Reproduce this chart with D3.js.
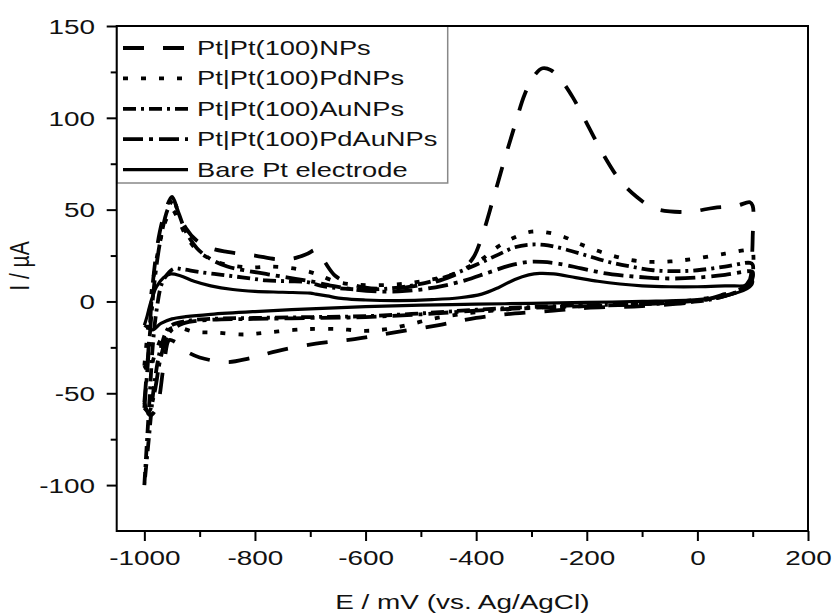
<!DOCTYPE html>
<html>
<head>
<meta charset="utf-8">
<script src="https://d3js.org/d3.v7.min.js"></script>
<style>
  body { margin: 0; background: #fff; }
  text { font-family: "Liberation Sans", Arial, sans-serif; fill: #111; }
</style>
</head>
<body>
<div class="chart"></div>
<script>
// cyclic voltammograms, [E (mV), I (uA)] along the loop
var npsCurve = [[-1000,-55],[-993,-28],[-984,12],[-972,38],[-959,52],[-950,57],[-940,50],[-925,40],[-905,33],[-880,29],[-850,27],[-800,25],[-760,23],[-730,23.5],[-705,26],[-690,28],[-675,22],[-655,14],[-630,10],[-600,7.5],[-550,7],[-500,9],[-460,12],[-430,16],[-405,24],[-390,35],[-370,55],[-350,76],[-330,96],[-312,113],[-295,123],[-280,127],[-265,126],[-245,120],[-225,111],[-200,97],[-170,80],[-140,66],[-110,57],[-80,51],[-50,49],[-10,49],[30,51],[70,52],[95,54],
  [100,52],[100,35],[98,20],[95,12],[80,7],[50,4],[0,0],[-100,-2.5],[-200,-3.5],[-260,-5],[-330,-6.5],[-400,-9],[-470,-13],[-550,-17],[-620,-20.5],[-690,-23],[-760,-27],[-810,-31],[-850,-33],[-900,-30.5],[-925,-27],[-945,-22],[-955,-21],[-965,-35],[-978,-58],[-990,-62],[-1000,-55]];

var pdCurve = [[-1000,-35],[-992,-10],[-985,10],[-972,32],[-960,45],[-950,50],[-938,44],[-925,36],[-905,28],[-880,23],[-850,20],[-810,18.5],[-770,19],[-730,18],[-700,16],[-685,14.5],[-650,10.5],[-610,9],[-560,9],[-520,10],[-480,12],[-450,14],[-420,18],[-390,23],[-360,30],[-330,35],[-300,38],[-270,37.5],[-240,35],[-210,31],[-165,26],[-120,22.5],[-80,21.5],[-40,22],[0,23.5],[50,26],[95,28],
  [100,27],[98,14],[90,9],[50,4],[0,1],[-100,-1],[-200,-2.5],[-300,-3.5],[-395,-5.7],[-440,-7.5],[-480,-9.5],[-520,-12.5],[-560,-15],[-600,-16],[-650,-15],[-700,-15],[-730,-15.5],[-780,-17],[-820,-18],[-870,-17],[-910,-16.5],[-945,-14],[-965,-18],[-980,-28],[-992,-38],[-1000,-35]];

var auCurve = [[-1000,-100],[-995,-75],[-990,-50],[-985,-25],[-978,-5],[-968,10],[-955,16],[-945,18],[-930,17.5],[-900,16],[-860,14.5],[-820,13],[-780,11.5],[-740,11],[-705,10.5],[-680,8.5],[-640,7],[-600,6.5],[-560,7],[-520,8.5],[-480,11],[-440,15],[-400,20],[-360,25.5],[-330,29.5],[-300,31],[-270,30.5],[-240,28.5],[-200,25],[-160,21.5],[-120,19],[-80,17],[-40,16.5],[0,17],[50,19],[95,21],
  [100,20],[98,12],[90,8],[50,3],[0,0],[-100,-1.5],[-200,-2],[-300,-3],[-400,-4.5],[-500,-6.5],[-600,-8],[-700,-8.5],[-800,-9],[-880,-9.5],[-930,-11],[-955,-14],[-970,-25],[-982,-45],[-992,-75],[-1000,-100]];

var pdauCurve = [[-1000,-58],[-994,-35],[-988,-10],[-980,15],[-970,35],[-958,50],[-948,55],[-938,48],[-925,38],[-905,29],[-880,23],[-850,19],[-820,17],[-780,15],[-740,13],[-700,11],[-660,8.5],[-620,6.5],[-580,5.5],[-540,5.5],[-500,6.5],[-460,8.5],[-420,11.5],[-380,15.5],[-340,19.5],[-305,21.5],[-280,21.5],[-250,20.5],[-210,18],[-170,15.5],[-130,14],[-90,13],[-50,12.5],[0,13],[50,14.5],[95,16.5],
  [100,16],[98,11],[90,8],[50,3],[0,0.5],[-100,-1.5],[-200,-2.5],[-300,-3.5],[-400,-5],[-500,-7],[-600,-8.5],[-700,-9],[-800,-9.5],[-880,-10],[-930,-12],[-955,-17],[-970,-30],[-982,-50],[-992,-60],[-1000,-58]];

var bareCurve = [[-1000,-13],[-995,-8],[-988,0],[-978,8],[-965,13],[-952,15],[-935,14],[-910,11],[-880,8.5],[-840,6.5],[-800,5.5],[-750,5],[-700,4.5],[-690,4],[-670,3],[-640,1.5],[-600,0.8],[-540,0.5],[-480,1],[-430,2],[-390,4],[-360,7.5],[-330,12],[-305,14.5],[-285,15.3],[-260,15],[-220,13],[-180,11],[-140,9.5],[-100,8.5],[-50,8],[0,8],[50,8.5],[95,9],
  [100,11],[98,9],[90,7],[50,3],[0,1],[-100,0],[-200,-0.5],[-300,-1],[-400,-1.5],[-500,-2],[-600,-2.8],[-700,-4],[-800,-5.5],[-880,-7],[-925,-8.3],[-950,-9.5],[-970,-12],[-985,-15.5],[-995,-14],[-1000,-13]];

var seriesNames = ["Pt|Pt(100)NPs", "Pt|Pt(100)PdNPs", "Pt|Pt(100)AuNPs", "Pt|Pt(100)PdAuNPs", "Bare Pt electrode"];
var seriesData = [npsCurve, pdCurve, auCurve, pdauCurve, bareCurve];
var seriesDash = ["21,19", "5,13", "13,5,3,5", "20,6,4,6", null];

var xMajor = [-1000, -800, -600, -400, -200, 0, 200];
var xMinor = [-900, -700, -500, -300, -100, 100];
var yMajor = [-100, -50, 0, 50, 100, 150];
var yMinor = [-75, -25, 25, 75, 125];

var width = 833, height = 615;
var plotLeft = 116.7, plotRight = 808, plotTop = 26, plotBottom = 531;
var stretch = 1.33;

var svg = d3.select(".chart").append("svg")
    .attr("width", width)
    .attr("height", height);

var x = d3.scaleLinear().domain([-1050, 200]).range([plotLeft, plotRight]);
var y = d3.scaleLinear().domain([-125, 150]).range([plotBottom, plotTop]);
var fmt = function(d) { return String(d); };

svg.append("clipPath").attr("id", "plotclip")
    .append("rect")
    .attr("x", plotLeft).attr("y", plotTop)
    .attr("width", plotRight - plotLeft).attr("height", plotBottom - plotTop);

// legend box first, curves drawn over the plot
var legend = svg.append("g");
legend.append("rect")
    .attr("x", plotLeft).attr("y", plotTop)
    .attr("width", 331).attr("height", 157)
    .attr("fill", "#fff")
    .attr("stroke", "#888")
    .attr("stroke-width", 1.5);

var line = d3.line()
    .x(function(d) { return x(d[0]); })
    .y(function(d) { return y(d[1]); })
    .curve(d3.curveCatmullRom.alpha(0.5));

var plot = svg.append("g").attr("clip-path", "url(#plotclip)");
seriesData.forEach(function(s, i) {
  plot.append("path")
      .datum(s)
      .attr("d", line)
      .attr("fill", "none")
      .attr("stroke", "#000")
      .attr("stroke-width", i == 4 ? 3.2 : 3.8)
      .attr("stroke-dasharray", seriesDash[i]);
});

seriesNames.forEach(function(name, i) {
  var base = 55 + i * 30.4;
  legend.append("line")
      .attr("x1", 123).attr("x2", 188)
      .attr("y1", base - 7).attr("y2", base - 7)
      .attr("stroke", "#000")
      .attr("stroke-width", i == 4 ? 3.2 : 3.8)
      .attr("stroke-dasharray", seriesDash[i]);
  legend.append("text")
      .attr("transform", "translate(197," + base + ") scale(" + stretch + ",1)")
      .style("font-size", "20.5px")
      .text(name);
});

// axes
var xAxis = svg.append("g").attr("transform", "translate(0," + plotBottom + ")")
    .call(d3.axisBottom(x).tickValues(xMajor).tickSize(10).tickFormat(fmt));
svg.append("g").attr("transform", "translate(0," + plotBottom + ")")
    .call(d3.axisBottom(x).tickValues(xMinor).tickSize(6).tickFormat(""));
var yAxis = svg.append("g").attr("transform", "translate(" + plotLeft + ",0)")
    .call(d3.axisLeft(y).tickValues(yMajor).tickSize(10).tickFormat(fmt));
svg.append("g").attr("transform", "translate(" + plotLeft + ",0)")
    .call(d3.axisLeft(y).tickValues(yMinor).tickSize(6).tickFormat(""));

svg.selectAll(".domain").remove();
svg.selectAll(".tick line").attr("stroke", "#000").attr("stroke-width", 2);

xAxis.selectAll(".tick text")
    .attr("y", 34).attr("dy", 0)
    .attr("transform", "scale(" + stretch + ",1)")
    .style("font-size", "21px")
    .attr("fill", "#111");
yAxis.selectAll(".tick text")
    .attr("x", -21.7 / stretch).attr("dy", "0.35em")
    .attr("transform", "scale(" + stretch + ",1)")
    .style("font-size", "21px")
    .attr("fill", "#111");
svg.selectAll(".tick text").style("font-family", "'Liberation Sans', Arial, sans-serif");

// frame
svg.append("rect")
    .attr("x", plotLeft).attr("y", plotTop)
    .attr("width", plotRight - plotLeft).attr("height", plotBottom - plotTop)
    .attr("fill", "none")
    .attr("stroke", "#000")
    .attr("stroke-width", 2);

// axis titles
svg.append("text")
    .attr("transform", "translate(" + ((plotLeft + plotRight) / 2) + ",609) scale(" + stretch + ",1)")
    .attr("text-anchor", "middle")
    .style("font-size", "21px")
    .text("E / mV (vs. Ag/AgCl)");

svg.append("text")
    .attr("transform", "translate(28.5,266) scale(" + stretch + ",1) rotate(-90)")
    .attr("text-anchor", "middle")
    .style("font-size", "21px")
    .text("I / \u00b5A");
</script>
</body>
</html>
